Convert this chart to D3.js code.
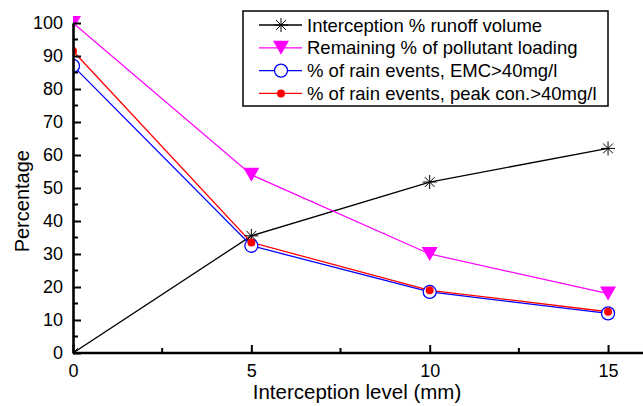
<!DOCTYPE html>
<html>
<head>
<meta charset="utf-8">
<script src="https://cdn.jsdelivr.net/npm/d3@7"></script>
<style>
  body { margin: 0; background: #fff; }
  text { font-family: "Liberation Sans", Arial, sans-serif; }
</style>
</head>
<body>
<svg width="643" height="406"></svg>
<script>
const levels = [0, 5, 10, 15];
const runoffIntercepted = [0, 35.5, 51.8, 62];
const pollutantRemaining = [100, 54, 30, 18];
const emcEvents = [87, 32.5, 18.5, 12];
const peakEvents = [91.5, 33.5, 19, 12.5];
const xTicks = [0, 5, 10, 15];
const yTicks = [0, 10, 20, 30, 40, 50, 60, 70, 80, 90, 100];

const series = [
  { name: 'Interception % runoff volume', values: runoffIntercepted, color: '#000000', marker: 'star' },
  { name: 'Remaining % of pollutant loading', values: pollutantRemaining, color: '#ff00ff', marker: 'triangle' },
  { name: '% of rain events, EMC>40mg/l', values: emcEvents, color: '#0000ff', marker: 'circle' },
  { name: '% of rain events, peak con.>40mg/l', values: peakEvents, color: '#ff0000', marker: 'dot' }
];

const svg = d3.select('svg');
const margin = { left: 73, top: 23, bottom: 53 };
const width = +svg.attr('width');
const height = +svg.attr('height');

const xScale = d3.scaleLinear().domain([0, 16]).range([margin.left, margin.left + 16 * 35.67]);
const yScale = d3.scaleLinear().domain([0, 100]).range([height - margin.bottom, margin.top]);

// clip so markers at x=0 are cut by the axis
svg.append('clipPath').attr('id', 'plot')
  .append('rect')
  .attr('x', margin.left).attr('y', 0)
  .attr('width', width - margin.left).attr('height', yScale(0));

const plot = svg.append('g').attr('clip-path', 'url(#plot)');

const drawMarker = (g, type, color) => {
  if (type === 'star') {
    const r = 7;
    [[0, -r, 0, r], [-r, 0, r, 0], [-r * 0.7, -r * 0.7, r * 0.7, r * 0.7], [-r * 0.7, r * 0.7, r * 0.7, -r * 0.7]]
      .forEach(l => g.append('line')
        .attr('x1', l[0]).attr('y1', l[1]).attr('x2', l[2]).attr('y2', l[3])
        .attr('stroke', color).attr('stroke-width', 1));
  } else if (type === 'triangle') {
    g.append('path').attr('d', 'M-8,-7L8,-7L0,7Z').attr('fill', color);
  } else if (type === 'circle') {
    g.append('circle').attr('r', 6.5).attr('fill', '#fff').attr('stroke', color).attr('stroke-width', 1.3);
  } else {
    g.append('circle').attr('r', 4).attr('fill', color);
  }
};

const line = d3.line().x((d, i) => xScale(levels[i])).y(d => yScale(d));

series.forEach(s => {
  plot.append('path')
    .attr('d', line(s.values))
    .attr('fill', 'none')
    .attr('stroke', s.color)
    .attr('stroke-width', 1.3);
});
series.forEach(s => {
  s.values.forEach((v, i) => {
    const g = plot.append('g').attr('transform', `translate(${xScale(levels[i])},${yScale(v)})`);
    drawMarker(g, s.marker, s.color);
  });
});

// axes, ticks pointing inward
const xAxis = svg.append('g').attr('transform', `translate(0,${yScale(0)})`)
  .call(d3.axisBottom(xScale).tickValues(xTicks).tickSizeInner(-8).tickSizeOuter(0).tickPadding(11));
xAxis.append('g').selectAll('line').data([2.5, 7.5, 12.5]).enter().append('line')
  .attr('x1', d => xScale(d)).attr('x2', d => xScale(d)).attr('y1', 0).attr('y2', -5)
  .attr('stroke', '#000').attr('stroke-width', 2);
xAxis.select('.domain').attr('d', `M${xScale(0)},0H${width}`);

const yAxis = svg.append('g').attr('transform', `translate(${margin.left},0)`)
  .call(d3.axisLeft(yScale).tickValues(yTicks).tickSizeInner(-8).tickSizeOuter(0).tickPadding(10));
yAxis.append('g').selectAll('line').data(d3.range(5, 100, 10)).enter().append('line')
  .attr('x1', 0).attr('x2', 5).attr('y1', d => yScale(d)).attr('y2', d => yScale(d))
  .attr('stroke', '#000').attr('stroke-width', 2);

svg.selectAll('.domain').attr('stroke-width', 2.6);
svg.selectAll('.tick line').attr('stroke-width', 2);
svg.selectAll('.tick text').attr('font-size', 18).attr('fill', '#000')
  .style('font-family', '"Liberation Sans", Arial, sans-serif');

svg.append('text')
  .attr('x', 357).attr('y', 399)
  .attr('text-anchor', 'middle').attr('font-size', 20.5)
  .text('Interception level (mm)');

svg.append('text')
  .attr('transform', `translate(29,${yScale(46)}) rotate(-90)`)
  .attr('text-anchor', 'middle').attr('font-size', 20)
  .text('Percentage');

// legend
const legend = svg.append('g');
legend.append('rect')
  .attr('x', 243).attr('y', 11).attr('width', 365).attr('height', 95)
  .attr('fill', '#fff').attr('stroke', '#000').attr('stroke-width', 1.5);
series.forEach((s, i) => {
  const y = 25 + i * 22.8;
  legend.append('line').attr('x1', 259).attr('x2', 302).attr('y1', y).attr('y2', y)
    .attr('stroke', s.color).attr('stroke-width', 1.3);
  drawMarker(legend.append('g').attr('transform', `translate(281,${y})`), s.marker, s.color);
  legend.append('text').attr('x', 307).attr('y', y + 6.5).attr('font-size', 18.5).text(s.name);
});
</script>
</body>
</html>
